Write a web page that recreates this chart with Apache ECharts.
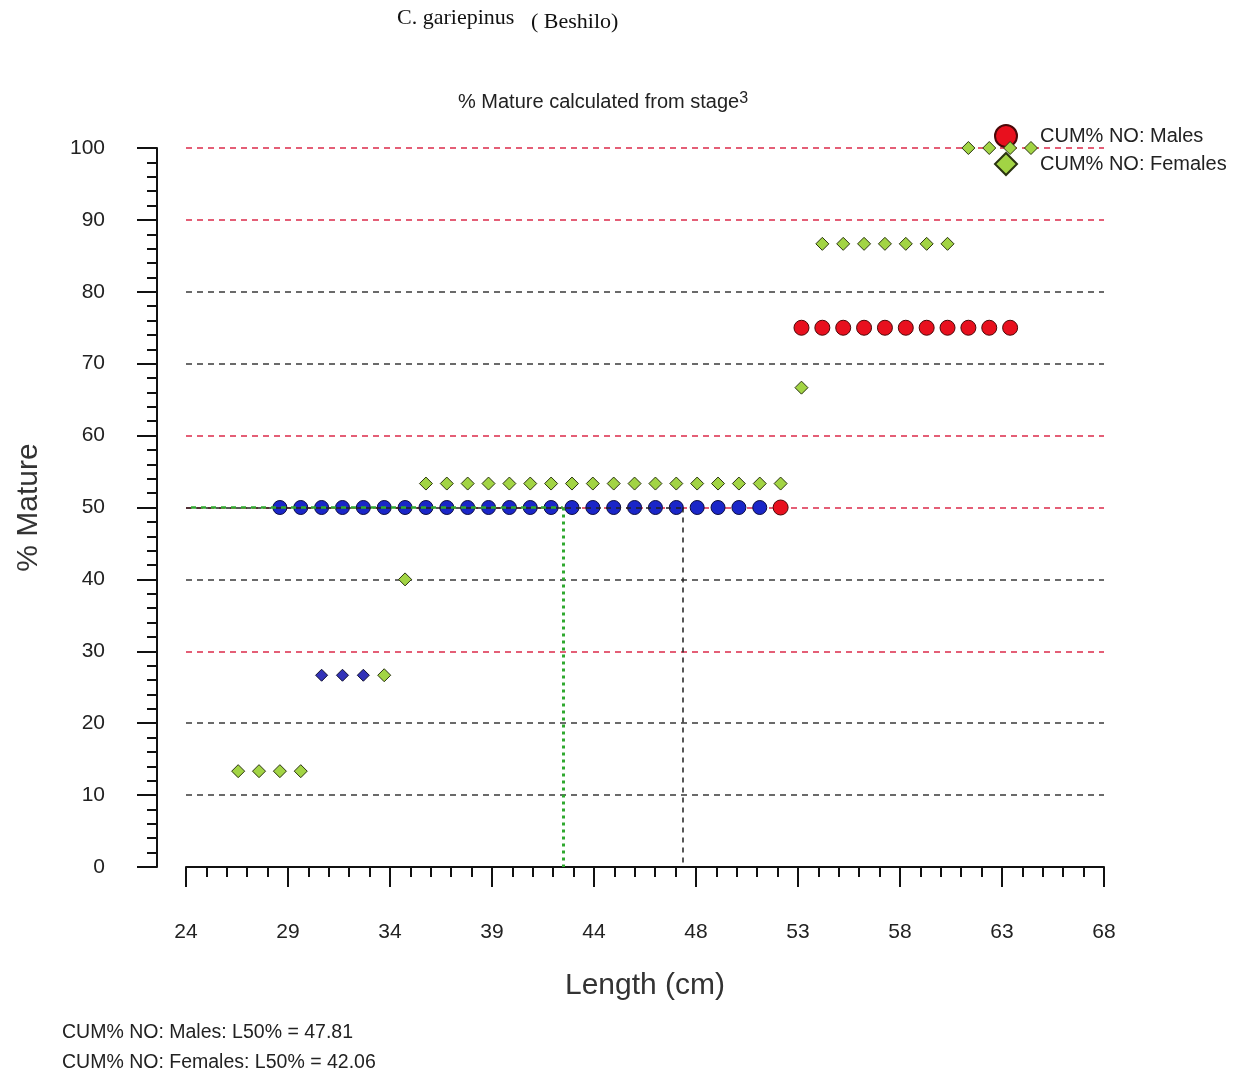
<!DOCTYPE html>
<html><head><meta charset="utf-8">
<script src="https://cdn.jsdelivr.net/npm/echarts@6/dist/echarts.min.js"></script>
<style>html,body{margin:0;padding:0;background:#fff}#c{width:1239px;height:1078px}</style>
</head><body><div id="c"></div>
<script>
// ---------- text ----------
const titleSpecies = 'C. gariepinus';
const titleSite = '( Beshilo)';
const subtitleText = '% Mature calculated from stage';
const subtitleStage = '3';
const yName = '% Mature';
const xName = 'Length (cm)';
const maleName = 'CUM% NO: Males';
const femaleName = 'CUM% NO: Females';
const L50_MALES = 47.81;
const L50_FEMALES = 42.06;
const L50_LEVEL = 50;

// ---------- axes ----------
const xMin = 24, xMax = 68;
const xTickLabels = ['24', '29', '34', '39', '44', '48', '53', '58', '63', '68'];
const yTickLabels = ['0', '10', '20', '30', '40', '50', '60', '70', '80', '90', '100'];

// ---------- data ----------
// Males, drawn red
const maleRedLength = [52.5, 53.5, 54.5, 55.5, 56.5, 57.5, 58.5, 59.5, 60.5, 61.5, 62.5, 63.5];
const maleRedPct    = [50,   75,   75,   75,   75,   75,   75,   75,   75,   75,   75,   75];
// Males, drawn blue
const maleBlueLength = [28.5, 29.5, 30.5, 31.5, 32.5, 33.5, 34.5, 35.5, 36.5, 37.5, 38.5, 39.5,
                        40.5, 41.5, 42.5, 43.5, 44.5, 45.5, 46.5, 47.5, 48.5, 49.5, 50.5, 51.5];
const maleBluePct    = [50, 50, 50, 50, 50, 50, 50, 50, 50, 50, 50, 50,
                        50, 50, 50, 50, 50, 50, 50, 50, 50, 50, 50, 50];
// Females, drawn green
const femaleLength = [26.5, 27.5, 28.5, 29.5, 33.5, 34.5,
                      35.5, 36.5, 37.5, 38.5, 39.5, 40.5, 41.5, 42.5, 43.5, 44.5, 45.5, 46.5, 47.5, 48.5, 49.5, 50.5, 51.5, 52.5,
                      53.5, 54.5, 55.5, 56.5, 57.5, 58.5, 59.5, 60.5,
                      61.5, 62.5, 63.5, 64.5];
const femalePct    = [13.33, 13.33, 13.33, 13.33, 26.67, 40,
                      53.33, 53.33, 53.33, 53.33, 53.33, 53.33, 53.33, 53.33, 53.33, 53.33, 53.33, 53.33, 53.33, 53.33, 53.33, 53.33, 53.33, 53.33,
                      66.67, 86.67, 86.67, 86.67, 86.67, 86.67, 86.67, 86.67,
                      100, 100, 100, 100];
// Females, drawn blue
const femaleBlueLength = [30.5, 31.5, 32.5];
const femaleBluePct    = [26.67, 26.67, 26.67];

// gridline colours (per y tick, from 0 to 100)
const RED = '#dc2a4a', DARK = '#3a3a3a';
const gridColors = ['#000', DARK, DARK, RED, DARK, RED, RED, DARK, DARK, RED, RED];

// ---------- build ----------
const zip = (a, b) => a.map((v, i) => [v, b[i]]);
const step = (xMax - xMin) / (xTickLabels.length - 1);
const xMajor = xTickLabels.map((_, i) => xMin + i * step);
const xMinor = [];
for (let i = 0; i < (xTickLabels.length - 1) * 5; i++) {
  if (i % 5 !== 0) xMinor.push(xMin + i * step / 5);
}
const font = "'Liberation Sans', Arial, sans-serif";
const serif = "'Liberation Serif', 'Times New Roman', serif";

const chart = echarts.init(document.getElementById('c'), null, {renderer: 'canvas'});
const option = {
  backgroundColor: '#ffffff',
  animation: false,
  grid: {left: 186, right: 135, top: 148, bottom: 211, outerBoundsMode: 'none'},
  legend: {
    orient: 'vertical', left: 989, top: 119,
    itemWidth: 22, itemHeight: 22, itemGap: 4,
    textStyle: {fontFamily: font, fontSize: 20, lineHeight: 22, color: '#222', padding: [0, 0, 0, 18]},
    data: [{name: maleName, icon: 'circle'}, {name: femaleName, icon: 'diamond'}],
    selectedMode: false
  },
  xAxis: [{
    type: 'value', min: xMin, max: xMax, position: 'bottom',
    name: xName, nameLocation: 'middle', nameGap: 104,
    nameTextStyle: {fontFamily: font, fontSize: 30, color: '#333'},
    axisLine: {show: true, onZero: false, lineStyle: {color: '#111', width: 2}},
    axisTick: {show: true, customValues: xMajor, length: 20, inside: false, lineStyle: {color: '#111', width: 2}},
    axisLabel: {
      show: true, customValues: xMajor, margin: 55,
      fontFamily: font, fontSize: 21, color: '#222',
      formatter: v => { const i = xMajor.findIndex(m => Math.abs(m - v) < 1e-6); return i >= 0 ? xTickLabels[i] : ''; }
    },
    splitLine: {show: false}
  }, {
    type: 'value', min: xMin, max: xMax, position: 'bottom',
    axisLine: {show: false, onZero: false},
    axisTick: {show: true, customValues: xMinor, length: 10, inside: false, lineStyle: {color: '#111', width: 2}},
    axisLabel: {show: false},
    splitLine: {show: false}
  }],
  yAxis: {
    type: 'value', min: 0, max: 100, interval: 10, offset: 29,
    name: yName, nameLocation: 'middle', nameGap: 113, nameRotate: 90,
    nameTextStyle: {fontFamily: font, fontSize: 30, color: '#333'},
    axisLine: {show: true, onZero: false, lineStyle: {color: '#111', width: 2}},
    axisTick: {show: true, length: 20, lineStyle: {color: '#111', width: 2}},
    minorTick: {show: true, splitNumber: 5, length: 10, lineStyle: {color: '#111', width: 2}},
    axisLabel: {margin: 52, fontFamily: font, fontSize: 21, color: '#222',
      formatter: (v, i) => yTickLabels[Math.round(v / 10)]},
    splitLine: {show: true, lineStyle: {color: gridColors, width: 1.5, type: [6, 5]}},
    minorSplitLine: {show: false}
  },
  graphic: [
    {type: 'text', left: 397, top: 7, style: {text: titleSpecies, font: '22px ' + serif, fill: '#111'}},
    {type: 'text', left: 531, top: 11, style: {text: titleSite, font: '22px ' + serif, fill: '#111'}},
    {type: 'text', left: 458, top: 91, style: {
      text: '{a|' + subtitleText + '}{b|' + subtitleStage + '}',
      rich: {a: {fontFamily: font, fontSize: 20, fill: '#222', color: '#222'},
             b: {fontFamily: font, fontSize: 16, fill: '#222', color: '#222', verticalAlign: 'top', padding: [0,0,6,0]}}}},
    {type: 'text', left: 62, top: 1023, style: {text: maleName + ': L50% = ' + L50_MALES.toFixed(2), font: '19.5px ' + font, fill: '#222'}},
    {type: 'text', left: 62, top: 1053, style: {text: femaleName + ': L50% = ' + L50_FEMALES.toFixed(2), font: '19.5px ' + font, fill: '#222'}}
  ],
  series: [
    {
      type: 'line', name: 'l50', data: [], z: 1, silent: true,
      markLine: {
        silent: true, symbol: 'none', label: {show: false}, animation: false,
        data: [
          [{coord: [xMin, L50_LEVEL], lineStyle: {color: '#222', width: 1.5, type: [5, 5]}}, {coord: [L50_MALES, L50_LEVEL]}],
          [{coord: [L50_MALES, L50_LEVEL], lineStyle: {color: '#222', width: 1.5, type: [5, 5]}}, {coord: [L50_MALES, 0]}],
          [{coord: [xMin, L50_LEVEL], lineStyle: {color: '#2fa82f', width: 2.5, type: [5, 5], dashOffset: 5}}, {coord: [L50_FEMALES, L50_LEVEL]}],
          [{coord: [L50_FEMALES, L50_LEVEL], lineStyle: {color: '#2fa82f', width: 3, type: [3, 4]}}, {coord: [L50_FEMALES, 0]}]
        ]
      }
    },
    {
      type: 'scatter', name: maleName + ' ', data: zip(maleBlueLength, maleBluePct), z: 3,
      symbol: 'circle', symbolSize: 14,
      itemStyle: {color: '#1a26c8', borderColor: '#0c0c40', borderWidth: 1, opacity: 1}
    },
    {
      type: 'scatter', name: femaleName + ' ', data: zip(femaleBlueLength, femaleBluePct), z: 3,
      symbol: 'diamond', symbolSize: 12,
      itemStyle: {color: '#3232b8', borderColor: '#101030', borderWidth: 1, opacity: 1}
    },
    {
      type: 'scatter', name: femaleName, data: zip(femaleLength, femalePct), z: 4,
      symbol: 'diamond', symbolSize: 13,
      itemStyle: {color: '#a2d444', borderColor: '#2a3410', borderWidth: 1, opacity: 1}
    },
    {
      type: 'scatter', name: maleName, data: zip(maleRedLength, maleRedPct), z: 5,
      symbol: 'circle', symbolSize: 15,
      itemStyle: {color: '#e8101e', borderColor: '#4a0808', borderWidth: 1, opacity: 1}
    }
  ]
};
chart.setOption(option);
</script>
</body></html>
